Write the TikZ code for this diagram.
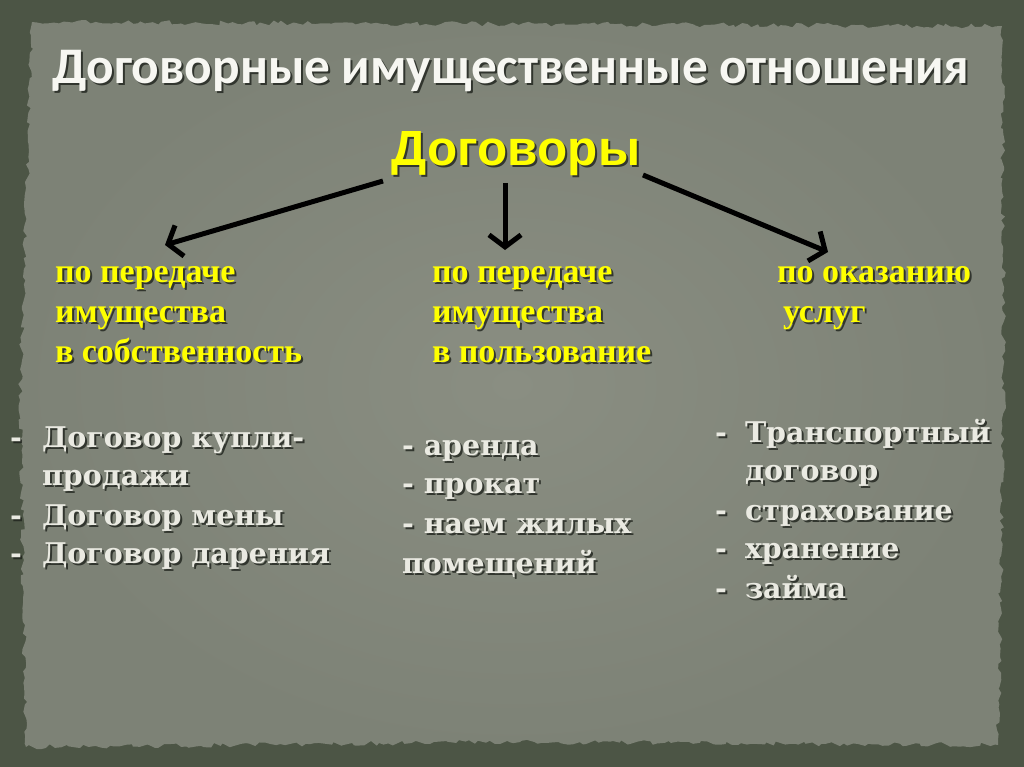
\documentclass[tikz,border=0pt]{standalone}
\usepackage{fontspec}
\usetikzlibrary{arrows.meta,decorations.pathmorphing}
\newfontfamily\titlefont{Carlito}
\newfontfamily\headfont{Liberation Sans}
\newfontfamily\catfont{Liberation Serif}
\newfontfamily\listfont{DejaVu Serif}
\definecolor{outerbg}{HTML}{4C5545}
\definecolor{paperin}{HTML}{8A8E82}
\definecolor{paperout}{HTML}{7D8276}
\definecolor{ylw}{HTML}{FFFF00}
\definecolor{listc}{HTML}{EAEAE2}
\definecolor{titlec}{HTML}{F7F7F2}
\definecolor{shc}{HTML}{1E221C}
\newcommand\ST[4]{%
  \node[#1,text=shc,text opacity=0.8,xshift=2pt,yshift=-2pt] at (#3) {#4};
  \node[#1] (#2) at (#3) {#4};}
\begin{document}
\begin{tikzpicture}[x=1pt,y=-1pt,
  txt/.style={anchor=base west,inner sep=0pt,outer sep=0pt},
  title/.style={txt,anchor=base,font=\titlefont\bfseries\fontsize{51.3}{51.3}\selectfont,text=titlec},
  head/.style={txt,anchor=base,font=\headfont\bfseries\fontsize{49.4}{49.4}\selectfont,text=ylw},
  cat/.style={txt,font=\catfont\bfseries\fontsize{34}{34}\selectfont,text=ylw},
  lst/.style={txt,font=\listfont\bfseries\fontsize{28.5}{28.5}\selectfont,text=listc},
  arr/.style={line width=5pt,draw=black,-{Straight Barb[length=12pt,width=32pt]}}]
\useasboundingbox (0,0) rectangle (1024,767);
\fill[outerbg] (0,0) rectangle (1024,767);
\shade[inner color=paperin,outer color=paperout,
  decorate,decoration={random steps,segment length=5pt,amplitude=2.5pt}]
  (32,22) -- (1002,26) -- (1004,390) -- (998,745) -- (520,742) -- (26,747) -- (20,400) -- cycle;
% title
\ST{title}{ttl}{511,84}{Договорные имущественные отношения}
\ST{head}{dog}{516,166}{Договоры}
% arrows
\coordinate (a1s) at (383,181);
\coordinate (a1e) at (165,245);
\coordinate (a2s) at (505,183);
\coordinate (a2e) at (505,250);
\coordinate (a3s) at (643,175);
\coordinate (a3e) at (828,252);
\draw[arr] (a1s) -- (a1e);
\draw[arr] (a2s) -- (a2e);
\draw[arr] (a3s) -- (a3e);
% categories
\ST{cat}{c11}{55,282}{по передаче}
\ST{cat}{c12}{55,322}{имущества}
\ST{cat}{c13}{55,362}{в собственность}
\ST{cat}{c21}{432,282}{по передаче}
\ST{cat}{c22}{432,322}{имущества}
\ST{cat}{c23}{432,362}{в пользование}
\ST{cat}{c31}{777,282}{по оказанию}
\ST{cat}{c32}{783,322}{услуг}
% left list
\ST{lst}{l1d}{10,447}{-}
\ST{lst}{l1}{42,447}{Договор купли-}
\ST{lst}{l2}{42,485}{продажи}
\ST{lst}{l3d}{10,525}{-}
\ST{lst}{l3}{42,525}{Договор мены}
\ST{lst}{l4d}{10,563}{-}
\ST{lst}{l4}{42,563}{Договор дарения}
% middle list
\ST{lst}{m1}{402,455}{- аренда}
\ST{lst}{m2}{402,493}{- прокат}
\ST{lst}{m3}{402,533}{- наем жилых}
\ST{lst}{m4}{402,573}{помещений}
% right list
\ST{lst}{r1d}{715,442}{-}
\ST{lst}{r1}{745,442}{Транспортный}
\ST{lst}{r2}{745,480}{договор}
\ST{lst}{r3d}{715,520}{-}
\ST{lst}{r3}{745,520}{страхование}
\ST{lst}{r4d}{715,558}{-}
\ST{lst}{r4}{745,558}{хранение}
\ST{lst}{r5d}{715,598}{-}
\ST{lst}{r5}{745,598}{займа}
\end{tikzpicture}
\end{document}
